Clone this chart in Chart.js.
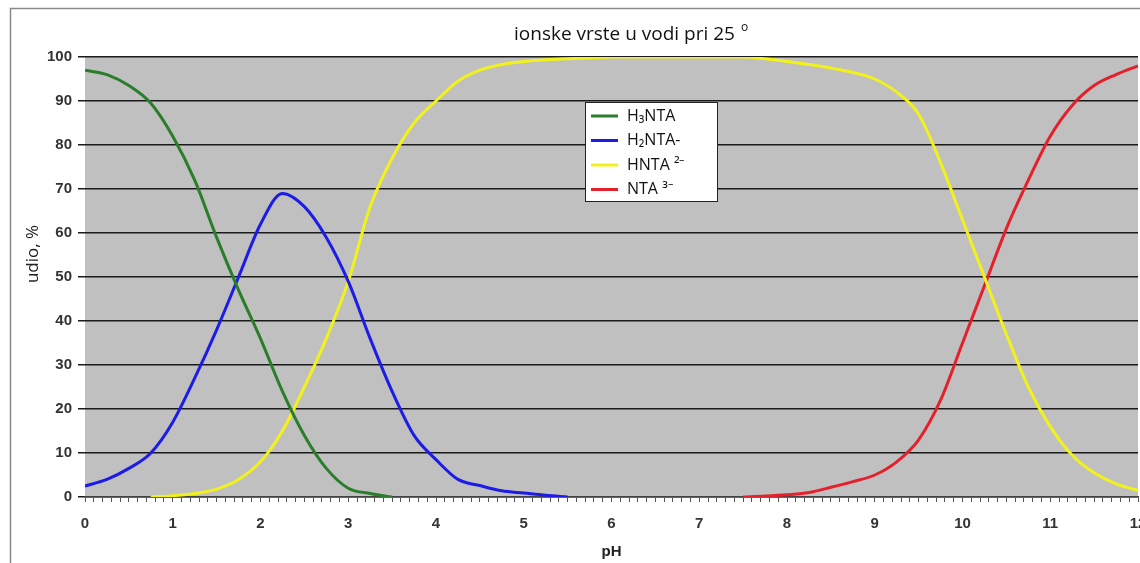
<!DOCTYPE html>
<html>
<head>
<meta charset="utf-8">
<script src="https://cdn.jsdelivr.net/npm/chart.js@4/dist/chart.umd.min.js"></script>
<style>
  html, body { margin: 0; padding: 0; background: #fff; }
  #wrap { position: relative; width: 1140px; height: 563px; }
</style>
</head>
<body>
<div id="wrap"><canvas id="chart" width="1140" height="563"></canvas></div>
<script>
// pH grid shared by all series (step 0.25)
const phValues = [];
for (let i = 0; i <= 48; i++) phValues.push(i * 0.25);

// species share, % (null = not drawn)
const h3nta = [97, 96, 93.5, 89.5, 82, 72, 59, 47, 36, 24, 14, 6.5, 2, 0.8, 0,
  null, null, null, null, null, null, null, null, null, null, null, null, null, null, null, null, null,
  null, null, null, null, null, null, null, null, null, null, null, null, null, null, null, null, null];
const h2nta = [2.5, 4, 6.5, 10, 17, 27, 38, 50, 62, 69, 66, 59, 49, 36, 24, 14, 8.5, 4, 2.6, 1.4, 0.9, 0.4, 0,
  null, null, null, null, null, null, null, null, null, null, null, null, null, null, null, null, null,
  null, null, null, null, null, null, null, null, null];
const hnta = [null, null, null, 0, 0.3, 0.8, 1.8, 4, 8, 15, 25, 36, 49, 66, 77, 85, 90, 94.5, 97, 98.3,
  99, 99.4, 99.6, 99.8, 100, 100, 100, 100, 100, 100, 100, 99.6, 99, 98.3, 97.5, 96.5,
  95, 92, 87, 76, 63, 50, 37, 25, 16, 9.5, 5.5, 3, 1.5];
const nta = [null, null, null, null, null, null, null, null, null, null, null, null, null, null, null,
  null, null, null, null, null, null, null, null, null, null, null, null, null, null, null,
  0, 0.2, 0.5, 1, 2.2, 3.5, 5, 8, 13, 22, 35, 48, 61, 72, 82, 89, 93.5, 96, 98];

const seriesLabels = ["H₃NTA", "H₂NTA-", "HNTA ²⁻", "NTA ³⁻"];
const seriesColors = ["#2a7d2a", "#1c1ce6", "#f2f21a", "#e3202c"];
const yTicks = [0, 10, 20, 30, 40, 50, 60, 70, 80, 90, 100];

function toPoints(values) {
  return values.map((v, i) => ({ x: phValues[i], y: v }));
}

// gray plot background, outer frame, titles and legend box
const decorPlugin = {
  id: "decor",
  beforeDraw(chart) {
    const { ctx, chartArea } = chart;
    ctx.save();
    ctx.fillStyle = "#c0c0c0";
    ctx.fillRect(chartArea.left, chartArea.top, chartArea.right - chartArea.left, chartArea.bottom - chartArea.top);
    ctx.strokeStyle = "#8a8a8a";
    ctx.lineWidth = 1.5;
    ctx.beginPath();
    ctx.moveTo(10.5, 563);
    ctx.lineTo(10.5, 8.5);
    ctx.lineTo(1140, 8.5);
    ctx.stroke();
    ctx.restore();
  },
  afterDraw(chart) {
    const { ctx } = chart;
    ctx.save();
    // title
    ctx.fillStyle = "#111";
    ctx.font = "19px 'Open Sans'";
    ctx.textBaseline = "alphabetic";
    ctx.textAlign = "left";
    const t = "ionske vrste u vodi pri 25";
    ctx.fillText(t, 514, 40);
    const w = ctx.measureText(t).width;
    ctx.font = "12px 'Open Sans'";
    ctx.fillText("o", 514 + w + 6, 31);

    // y axis title
    ctx.save();
    ctx.translate(33, 254);
    ctx.rotate(-Math.PI / 2);
    ctx.font = "17px 'Open Sans'";
    ctx.textAlign = "center";
    ctx.textBaseline = "middle";
    ctx.fillStyle = "#222";
    ctx.fillText("udio, %", 0, 0);
    ctx.restore();

    // legend
    const lx = 585, ly = 102, lw = 132, lh = 99;
    ctx.fillStyle = "#fff";
    ctx.fillRect(lx, ly, lw, lh);
    ctx.strokeStyle = "#222";
    ctx.lineWidth = 1;
    ctx.strokeRect(lx + 0.5, ly + 0.5, lw, lh);
    ctx.font = "16px 'Open Sans'";
    ctx.textBaseline = "middle";
    ctx.textAlign = "left";
    chart.data.datasets.forEach((ds, i) => {
      const y = ly + 14 + i * 24.5;
      ctx.strokeStyle = ds.borderColor;
      ctx.lineWidth = 3;
      ctx.beginPath();
      ctx.moveTo(lx + 6, y);
      ctx.lineTo(lx + 33, y);
      ctx.stroke();
      ctx.fillStyle = "#111";
      ctx.fillText(ds.label, lx + 42, y);
    });
    ctx.restore();
  }
};

const ctx = document.getElementById("chart").getContext("2d");
new Chart(ctx, {
  type: "line",
  data: {
    datasets: [h3nta, h2nta, hnta, nta].map((vals, i) => ({
      label: seriesLabels[i],
      data: toPoints(vals),
      borderColor: seriesColors[i],
      backgroundColor: seriesColors[i],
      borderWidth: 3,
      pointRadius: 0,
      cubicInterpolationMode: "monotone",
      spanGaps: false,
      fill: false
    }))
  },
  options: {
    responsive: false,
    animation: false,
    layout: { padding: { left: 0, right: 2, top: 57, bottom: 0 } },
    plugins: {
      legend: { display: false },
      title: { display: false },
      tooltip: { enabled: false }
    },
    scales: {
      x: {
        type: "linear",
        min: 0,
        max: 12,
        afterFit(scale) {
          scale.height = 66;
          scale.paddingLeft = 0;
          scale.paddingRight = 0;
        },
        border: { display: true, color: "#444", width: 1.5 },
        grid: { drawOnChartArea: false, drawTicks: true, tickLength: 5, color: "#555" },
        ticks: {
          stepSize: 0.1,
          autoSkip: false,
          maxRotation: 0,
          padding: 13,
          color: "#333",
          font: { family: "'Liberation Sans', Arial", size: 15, weight: "bold" },
          callback: v => Math.abs(v - Math.round(v)) < 1e-6 ? String(Math.round(v)) : ""
        },
        title: {
          display: true,
          text: "pH",
          color: "#222",
          font: { family: "'Liberation Sans', Arial", size: 15, weight: "bold" },
          padding: { top: 0, bottom: 2 }
        }
      },
      y: {
        min: 0,
        max: 100,
        afterFit(scale) { scale.width = 85; },
        afterBuildTicks(scale) { scale.ticks = yTicks.map(v => ({ value: v })); },
        border: { display: false },
        grid: { color: "#1a1a1a", lineWidth: 1.5, tickLength: 7 },
        ticks: {
          padding: 6,
          color: "#333",
          font: { family: "'Liberation Sans', Arial", size: 15, weight: "bold" }
        },
        title: { display: false }
      }
    }
  },
  plugins: [decorPlugin]
});
</script>
</body>
</html>
